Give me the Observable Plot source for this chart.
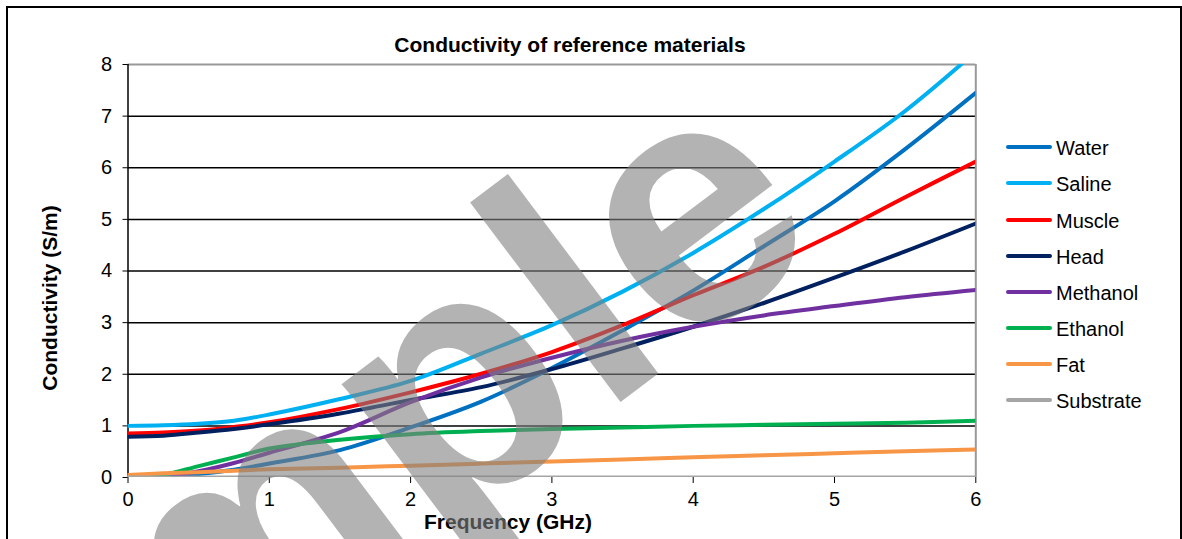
<!DOCTYPE html>
<html>
<head>
<meta charset="utf-8">
<script src="https://cdn.jsdelivr.net/npm/d3@7"></script>
<script src="https://cdn.jsdelivr.net/npm/@observablehq/plot@0.6"></script>
<style>
  html, body { margin: 0; padding: 0; background: #fff; overflow: hidden; }
  #wrap { position: relative; width: 1182px; height: 539px; overflow: hidden; font-family: "Liberation Sans", Arial, sans-serif; }
  #frame { position: absolute; left: 6px; top: 6px; width: 1176px; height: 600px; border: 2px solid #000; box-sizing: border-box; }
  #chart { position: absolute; left: 0; top: 0; }
  .t { position: absolute; white-space: nowrap; color: #000; }
  #title { font-weight: bold; font-size: 21px; left: 570px; top: 33px; transform: translateX(-50%); }
  #xlab { font-weight: bold; font-size: 21px; left: 508px; top: 510px; transform: translateX(-50%); }
  #ylab { font-weight: bold; font-size: 21px; left: 50px; top: 298px; transform: translate(-50%, -50%) rotate(-90deg); }
  #legend { position: absolute; left: 1006px; top: 130px; }
  .li { position: absolute; left: 0; height: 20px; white-space: nowrap; font-size: 20px; }
  .sw { position: absolute; left: 0; width: 46px; height: 4px; border-radius: 2px; }
  .lt { position: absolute; left: 50px; top: -10px; }
  #wm { position: absolute; left: 0; top: 0; pointer-events: none; }
</style>
</head>
<body>
<div id="wrap">
  <div id="frame"></div>
  <div id="chart"></div>
  <div id="title" class="t">Conductivity of reference materials</div>
  <div id="xlab" class="t">Frequency (GHz)</div>
  <div id="ylab" class="t">Conductivity (S/m)</div>
  <div id="legend"></div>
  <svg id="wm" width="1182" height="539"></svg>
</div>
<script>
const seriesNames = ["Water", "Saline", "Muscle", "Head", "Methanol", "Ethanol", "Fat", "Substrate"];
const seriesColors = ["#0070C0", "#00B0F0", "#FF0000", "#002060", "#7030A0", "#00B050", "#F79646", "#A5A5A5"];
const freq = [0, 0.25, 0.5, 0.75, 1, 1.5, 2, 2.5, 3, 3.5, 4, 4.5, 5, 5.5, 6];
const water = [0, 0.02, 0.07, 0.15, 0.27, 0.53, 0.97, 1.47, 2.12, 2.85, 3.62, 4.48, 5.35, 6.36, 7.45];
const saline = [1.0, 1.01, 1.04, 1.1, 1.22, 1.52, 1.87, 2.4, 2.95, 3.6, 4.35, 5.2, 6.12, 7.1, 8.25];
const muscle = [0.85, 0.87, 0.91, 0.98, 1.07, 1.33, 1.65, 2.01, 2.43, 2.95, 3.53, 4.08, 4.72, 5.43, 6.12];
const head = [0.79, 0.81, 0.87, 0.94, 1.03, 1.24, 1.5, 1.75, 2.1, 2.5, 2.92, 3.38, 3.87, 4.38, 4.92];
const methanol = [0, 0.02, 0.12, 0.28, 0.48, 0.88, 1.46, 1.94, 2.32, 2.65, 2.92, 3.14, 3.32, 3.49, 3.63];
const ethanol = [0, 0.05, 0.22, 0.39, 0.56, 0.73, 0.84, 0.9, 0.94, 0.97, 1.0, 1.02, 1.04, 1.06, 1.1];
const fat = [0.05, 0.08, 0.1, 0.13, 0.16, 0.19, 0.23, 0.27, 0.31, 0.35, 0.39, 0.43, 0.47, 0.51, 0.54];
const substrate = [0, 0, 0, 0, 0, 0, 0, 0, 0, 0, 0, 0, 0, 0, 0];
const xTicks = [0, 1, 2, 3, 4, 5, 6];
const yTicks = [0, 1, 2, 3, 4, 5, 6, 7, 8];
const gridValues = [1, 2, 3, 4, 5, 6, 7];
const watermarkText = "Sample";

const seriesValues = [water, saline, muscle, head, methanol, ethanol, fat, substrate];
const rows = [];
seriesNames.forEach((name, i) => {
  freq.forEach((f, j) => rows.push({ freq: f, value: seriesValues[i][j], series: name }));
});

const chart = Plot.plot({
  width: 1182,
  height: 539,
  marginLeft: 127.5,
  marginRight: 206.7,
  marginTop: 64,
  marginBottom: 62,
  style: { fontFamily: "'Liberation Sans', Arial, sans-serif", fontSize: "20px", color: "#000", background: "transparent", overflow: "visible" },
  x: { domain: [0, 6] },
  y: { domain: [0, 8] },
  color: { domain: seriesNames, range: seriesColors },
  marks: [
    Plot.ruleY(gridValues, { stroke: "#000", strokeWidth: 1.5 }),
    Plot.ruleY([8], { stroke: "#999", strokeWidth: 2 }),
    Plot.ruleX([6], { stroke: "#999", strokeWidth: 2 }),
    Plot.axisX({ ticks: xTicks, tickSize: 6, tickPadding: 8, fontSize: 20, label: null, tickFormat: d => String(d) }),
    Plot.axisY({ ticks: yTicks, tickSize: 5, tickPadding: 11, fontSize: 20, label: null, tickFormat: d => String(d) }),
    Plot.ruleX([0], { stroke: "#000", strokeWidth: 1.5 }),
    Plot.lineY(rows, { x: "freq", y: "value", z: "series", stroke: "series", strokeWidth: 4, curve: "catmull-rom", clip: true })
  ]
});
document.getElementById("chart").appendChild(chart);

// legend
const legend = document.getElementById("legend");
seriesNames.forEach((name, i) => {
  const item = document.createElement("div");
  item.className = "li";
  item.style.top = (17.3 + i * 36.1) + "px";
  const sw = document.createElement("div");
  sw.className = "sw";
  sw.style.background = seriesColors[i];
  sw.style.top = "-2px";
  const lt = document.createElement("div");
  lt.className = "lt";
  lt.textContent = name;
  item.appendChild(sw);
  item.appendChild(lt);
  legend.appendChild(item);
});

// watermark
const wm = d3.select("#wm");
wm.append("text")
  .attr("transform", "translate(-149,982) rotate(-37)")
  .attr("font-family", "'Liberation Sans', Arial, sans-serif")
  .attr("font-weight", "bold")
  .attr("font-size", 345)
  .attr("fill", "#808080")
  .attr("fill-opacity", 0.6)
  .text(watermarkText);
</script>
</body>
</html>
